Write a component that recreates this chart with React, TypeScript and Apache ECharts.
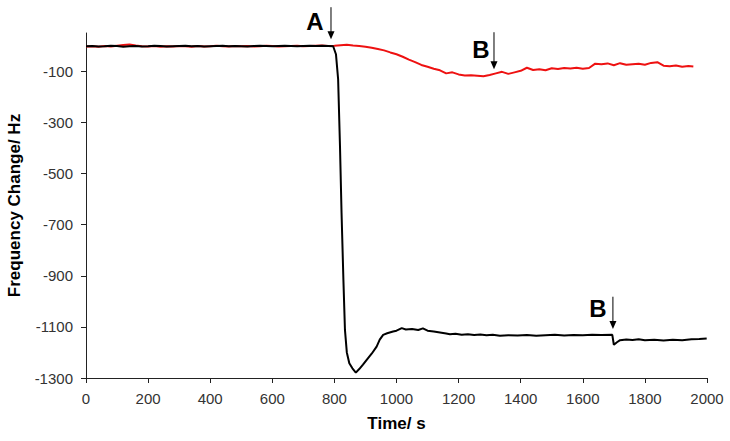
import React, { useEffect, useRef } from "react";
import * as echarts from "echarts";

// Time (s) / frequency change (Hz) for the black trace
const blackTime = [0,20,40,60,80,100,120,140,160,180,200,220,240,260,280,300,320,340,360,380,400,420,440,460,480,500,520,540,560,580,600,620,640,660,680,700,720,740,760,780,796,805,812,818,823,829,834,840,848,858,869,880,892,904,920,936,946,957,970,989,1000,1017,1030,1050,1070,1085,1100,1120,1140,1160,1172,1190,1210,1230,1250,1270,1290,1310,1333,1360,1390,1420,1450,1480,1510,1540,1570,1600,1630,1660,1695,1700,1710,1720,1740,1760,1780,1800,1830,1860,1890,1920,1950,1975,1999];
const blackValue = [-2,-1,-3,-2,0,-1,-4,-2,-1,-3,-2,0,-1,-3,-2,-1,0,-2,-1,-3,-2,-1,0,-2,-1,-2,-3,-1,0,-1,-2,-1,0,-1,-2,-1,0,-1,0,-1,-2,-33,-131,-393,-653,-916,-1112,-1200,-1242,-1262,-1279,-1265,-1248,-1229,-1205,-1177,-1150,-1131,-1125,-1118,-1115,-1105,-1110,-1108,-1112,-1106,-1115,-1118,-1122,-1126,-1129,-1127,-1131,-1129,-1132,-1130,-1133,-1131,-1135,-1133,-1134,-1132,-1135,-1133,-1131,-1134,-1132,-1133,-1131,-1132,-1131,-1170,-1160,-1152,-1149,-1151,-1148,-1152,-1150,-1153,-1150,-1152,-1148,-1147,-1145];

// Time (s) / frequency change (Hz) for the red trace
const redTime = [0,20,40,60,80,100,120,140,160,180,200,220,240,260,280,300,320,340,360,380,400,420,440,460,480,500,520,540,560,580,600,620,640,660,680,700,720,740,760,780,800,820,840,860,880,900,920,940,960,980,1000,1020,1040,1060,1080,1100,1120,1140,1160,1180,1200,1220,1240,1260,1280,1300,1320,1340,1360,1380,1400,1420,1440,1460,1480,1500,1520,1540,1560,1580,1600,1620,1640,1660,1680,1700,1720,1740,1760,1780,1800,1820,1840,1860,1880,1900,1920,1940,1956];
const redValue = [-3,-2,-4,-1,-3,0,3,5,1,-2,-3,-1,-4,-2,-3,-1,-2,-4,-1,-3,-2,0,-2,-3,-1,-2,-1,-3,-2,0,-1,-3,-2,-1,0,-2,-1,0,1,-1,0,2,4,1,-1,-4,-8,-13,-18,-26,-33,-43,-54,-64,-75,-82,-90,-96,-108,-104,-112,-116,-115,-117,-119,-114,-108,-102,-110,-104,-98,-86,-95,-92,-96,-88,-91,-87,-89,-86,-90,-87,-70,-72,-69,-76,-68,-74,-72,-70,-74,-67,-64,-78,-80,-77,-82,-79,-81];

const yTickLabels = [-1300, -1100, -900, -700, -500, -300, -100];
const xTickLabels = [0, 200, 400, 600, 800, 1000, 1200, 1400, 1600, 1800, 2000];

// Annotations in data units: label text and centre, arrow x, arrow top and tip
const annotations = [
  { text: "A", lx: 737, ly: 96, ax: 789, top: 151, tip: 26 },
  { text: "B", lx: 1272, ly: -14, ax: 1314, top: 53, tip: -92 },
  { text: "B", lx: 1649, ly: -1029, ax: 1697, top: -982, tip: -1108 },
];

const font = "Arial, 'Liberation Sans', sans-serif";

export default function App() {
  const ref = useRef<HTMLDivElement>(null);
  useEffect(() => {
    if (!ref.current) return;
    const chart = echarts.init(ref.current, undefined, { renderer: "svg" });
    chart.setOption({
      animation: false,
      backgroundColor: "#fff",
      grid: { left: 86, right: 23, top: 33, bottom: 63, outerBoundsMode: "none", containLabel: false },
      xAxis: {
        type: "value",
        min: 0,
        max: 2000,
        interval: 200,
        name: "Time/ s",
        nameLocation: "middle",
        nameGap: 37,
        nameTextStyle: { fontFamily: font, fontWeight: "bold", fontSize: 17, color: "#000" },
        axisLine: { onZero: false, lineStyle: { color: "#222", width: 1 } },
        axisTick: { show: true, length: 5, lineStyle: { color: "#222" }, customValues: xTickLabels },
        axisLabel: {
          fontFamily: font, fontSize: 15, color: "#333", margin: 13,
          customValues: xTickLabels, formatter: (v: number) => String(v),
        },
        splitLine: { show: false },
      },
      yAxis: {
        type: "value",
        min: -1300,
        max: 50,
        interval: 200,
        name: "Frequency Change/ Hz",
        nameLocation: "middle",
        nameGap: 63,
        nameTextStyle: { fontFamily: font, fontWeight: "bold", fontSize: 17, color: "#000" },
        axisLine: { show: true, onZero: false, lineStyle: { color: "#222", width: 1 } },
        axisTick: { show: true, length: 5, lineStyle: { color: "#222" }, customValues: yTickLabels },
        axisLabel: {
          fontFamily: font, fontSize: 15, color: "#333", margin: 13,
          customValues: yTickLabels, formatter: (v: number) => String(v),
        },
        splitLine: { show: false },
      },
      series: [
        {
          type: "line",
          name: "red",
          data: redTime.map((t, i) => [t, redValue[i]]),
          showSymbol: false,
          lineStyle: { color: "#ee1111", width: 2 },
          itemStyle: { color: "#ee1111" },
          z: 2,
        },
        {
          type: "line",
          name: "black",
          data: blackTime.map((t, i) => [t, blackValue[i]]),
          showSymbol: false,
          lineStyle: { color: "#000", width: 2 },
          itemStyle: { color: "#000" },
          z: 3,
        },
      ],
    });

    const graphic: any[] = [];
    annotations.forEach((a) => {
      const lp = chart.convertToPixel({ gridIndex: 0 }, [a.lx, a.ly]) as number[];
      const top = chart.convertToPixel({ gridIndex: 0 }, [a.ax, a.top]) as number[];
      const tip = chart.convertToPixel({ gridIndex: 0 }, [a.ax, a.tip]) as number[];
      graphic.push({
        type: "text",
        x: lp[0],
        y: lp[1],
        z: 10,
        style: {
          text: a.text,
          fontFamily: font,
          fontWeight: "bold",
          fontSize: 24,
          fill: "#000",
          align: "center",
          verticalAlign: "middle",
        },
      });
      graphic.push({
        type: "line",
        z: 10,
        shape: { x1: top[0], y1: top[1], x2: tip[0], y2: tip[1] - 6 },
        style: { stroke: "#000", lineWidth: 1 },
      });
      graphic.push({
        type: "polygon",
        z: 10,
        shape: { points: [[tip[0] - 3.5, tip[1] - 8], [tip[0] + 3.5, tip[1] - 8], [tip[0], tip[1]]] },
        style: { fill: "#000" },
      });
    });
    chart.setOption({ graphic });

    return () => chart.dispose();
  }, []);
  return (
    <div
      ref={ref}
      style={{ position: "fixed", left: 0, top: 0, width: 730, height: 441, background: "#fff" }}
    />
  );
}
